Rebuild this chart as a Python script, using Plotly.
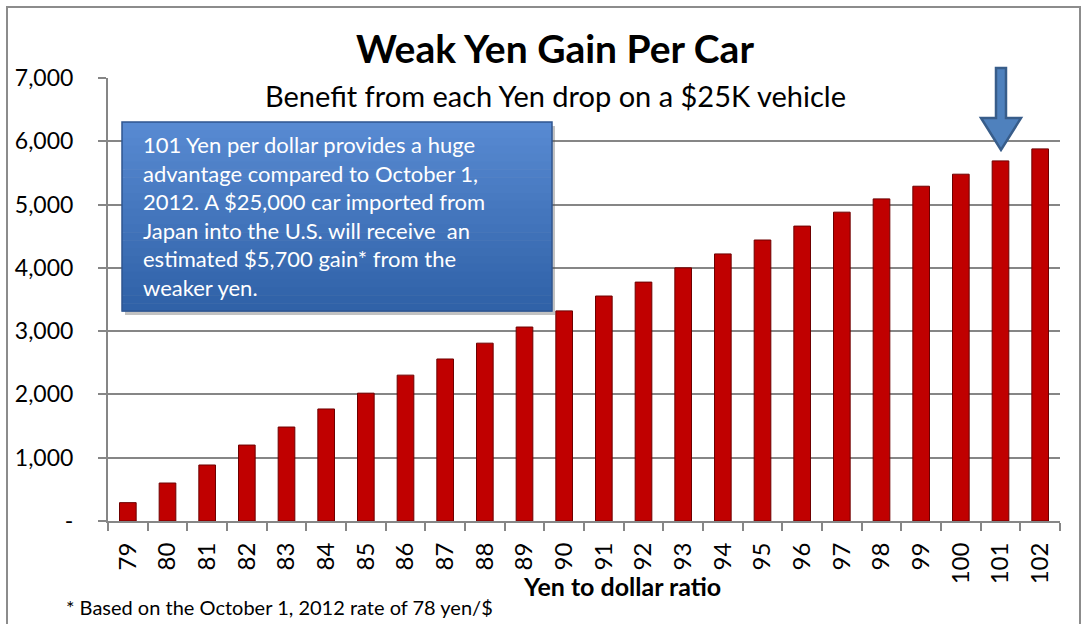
import plotly.graph_objects as go

yen = ["79","80","81","82","83","84","85","86","87","88","89","90",
       "91","92","93","94","95","96","97","98","99","100","101","102"]
gain = [290, 600, 885, 1200, 1485, 1770, 2020, 2305, 2560, 2810, 3065, 3320,
        3555, 3775, 4000, 4220, 4440, 4660, 4880, 5090, 5290, 5480, 5690, 5880]
ytick_vals = [0, 1000, 2000, 3000, 4000, 5000, 6000, 7000]
ytick_text = ["-", "1,000", "2,000", "3,000", "4,000", "5,000", "6,000", "7,000"]

W, H = 1083, 624
L, R, T, B = 108, 1060, 78, 521   # plot area in pixels
FONT = "Lato"

def px(x):
    return (x - L) / (R - L)

def py(y):
    return (B - y) / (B - T)

fig = go.Figure()
fig.add_trace(go.Bar(
    x=yen, y=gain, width=0.42,
    marker=dict(color="#C00000", line=dict(color="#6E0000", width=1)),
    hoverinfo="x+y",
))

shapes = []
# outer border
shapes.append(dict(type="rect", xref="paper", yref="paper",
                   x0=px(7), x1=px(1080), y0=py(640), y1=py(7),
                   line=dict(color="#8C8C8C", width=2), fillcolor="rgba(0,0,0,0)", layer="below"))

# blue text box with vertical gradient (strips)
bx0, bx1, by0, by1 = 122, 552, 122, 311
shapes.append(dict(type="rect", xref="paper", yref="paper",
                   x0=px(bx0 + 3), x1=px(bx1 + 3), y0=py(by1 + 4), y1=py(by0 + 4),
                   line=dict(width=0), fillcolor="rgba(80,80,80,0.35)", layer="above"))
n = 24
top_c = (88, 138, 210)
bot_c = (48, 98, 168)
for i in range(n):
    t = i / (n - 1)
    c = tuple(int(top_c[k] + (bot_c[k] - top_c[k]) * t) for k in range(3))
    y0s = by0 + (by1 - by0) * i / n
    y1s = by0 + (by1 - by0) * (i + 1) / n + 0.5
    shapes.append(dict(type="rect", xref="paper", yref="paper",
                       x0=px(bx0), x1=px(bx1), y0=py(y1s), y1=py(y0s),
                       line=dict(width=0), fillcolor="rgb(%d,%d,%d)" % c, layer="above"))
shapes.append(dict(type="rect", xref="paper", yref="paper",
                   x0=px(bx0), x1=px(bx1), y0=py(by1), y1=py(by0),
                   line=dict(color="#2F5690", width=1.5), fillcolor="rgba(0,0,0,0)", layer="above"))

# down arrow above bar 101
ax = 1001
pts = [(ax - 5, 68), (ax + 5, 68), (ax + 5, 118), (ax + 20, 118), (ax, 150),
       (ax - 20, 118), (ax - 5, 118)]
path = "M " + " L ".join("%f,%f" % (px(x), py(y)) for x, y in pts) + " Z"
shapes.append(dict(type="path", xref="paper", yref="paper", path=path,
                   fillcolor="#4F81BD", line=dict(color="#385D8A", width=2.5), layer="above"))

annotations = [
    dict(text="<b>Weak Yen Gain Per Car</b>", x=px(555), y=py(48), xref="paper", yref="paper",
         showarrow=False, font=dict(family=FONT, size=39, color="black"), xanchor="center", yanchor="middle"),
    dict(text="Benefit from each Yen drop on a $25K vehicle", x=px(555), y=py(95), xref="paper", yref="paper",
         showarrow=False, font=dict(family=FONT, size=29, color="black"), xanchor="center", yanchor="middle"),
    dict(text="101 Yen per dollar provides a huge<br>advantage compared to October 1,<br>"
              "2012. A $25,000 car imported from<br>Japan into the U.S. will receive  an<br>"
              "estimated $5,700 gain* from the<br>weaker yen.",
         x=px(141), y=py(129), xref="paper", yref="paper", showarrow=False, align="left",
         xanchor="left", yanchor="top", font=dict(family=FONT, size=22, color="white")),
    dict(text="<b>Yen to dollar ratio</b>", x=px(622), y=py(586), xref="paper", yref="paper",
         showarrow=False, font=dict(family=FONT, size=25, color="black"), xanchor="center", yanchor="middle"),
    dict(text="* Based on the October 1, 2012 rate of 78 yen/$", x=px(64), y=py(607), xref="paper", yref="paper",
         showarrow=False, font=dict(family=FONT, size=20, color="black"), xanchor="left", yanchor="middle"),
]

fig.update_layout(
    width=W, height=H,
    margin=dict(l=L, r=W - R, t=T, b=H - B, autoexpand=False),
    paper_bgcolor="white", plot_bgcolor="white",
    showlegend=False,
    shapes=shapes,
    annotations=annotations,
    xaxis=dict(
        type="category", tickangle=-90, tickfont=dict(family=FONT, size=24, color="black"),
        showline=True, linecolor="#868686", linewidth=2,
        ticks="outside", ticklen=8, tickcolor="#868686", tickwidth=2, tickson="boundaries",
        showgrid=False, automargin=False, ticklabelstandoff=10,
    ),
    yaxis=dict(
        range=[0, 7000], tickvals=ytick_vals, ticktext=ytick_text,
        tickfont=dict(family=FONT, size=23, color="black"),
        showline=True, linecolor="#868686", linewidth=2,
        ticks="outside", ticklen=8, tickcolor="#868686", tickwidth=2,
        showgrid=True, gridcolor="#868686", gridwidth=1.5,
        zeroline=False, automargin=False, ticklabelstandoff=20,
    ),
)

fig.write_html("out.html", post_script="document.body.style.margin='0px';",
               config={"displayModeBar": False})
